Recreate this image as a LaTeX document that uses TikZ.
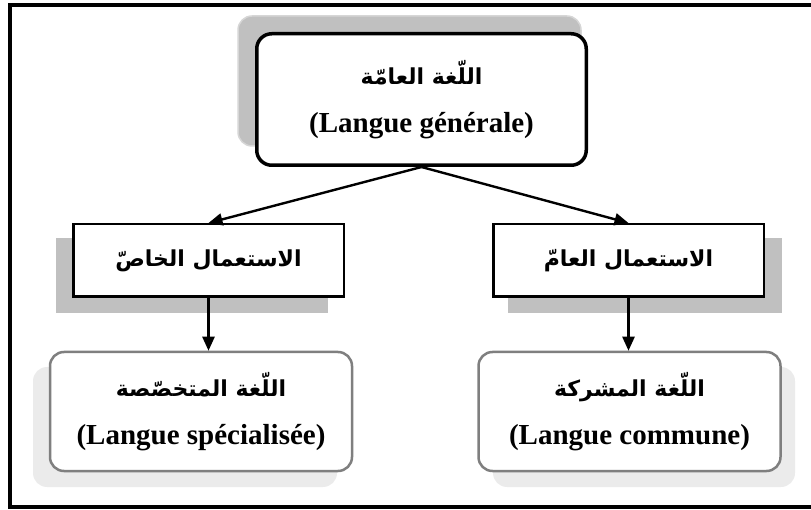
\documentclass[tikz,border=0pt]{standalone}
\usepackage{fontspec}
\setmainfont{Liberation Serif}
\newfontfamily\arabicfont[Script=Arabic]{DejaVu Sans}
\TeXXeTstate=1
\usetikzlibrary{arrows.meta}
\definecolor{shadowdark}{HTML}{C0C0C0}
\definecolor{shadowrim}{HTML}{D6D6D6}
\definecolor{shadowlight}{HTML}{EBEBEB}
\definecolor{softrim}{HTML}{7F7F7F}
\newcommand{\ar}[1]{{\arabicfont\bfseries\fontsize{22}{48}\selectfont\beginR #1\endR}}
\newcommand{\la}[1]{{\bfseries\fontsize{29}{48}\selectfont #1}}
\begin{document}
\begin{tikzpicture}[x=1pt,y=-1pt,
  txt/.style={align=center,inner sep=0pt,font=\fontsize{29}{48}\selectfont},
  topbox/.style={txt,draw=black,fill=white,line width=3.5pt,rounded corners=15pt,
    minimum width=329.5pt,minimum height=131.5pt},
  midbox/.style={txt,draw=black,fill=white,line width=2.5pt,
    minimum width=270.5pt,minimum height=72.5pt},
  lowbox/.style={txt,draw=softrim,fill=white,line width=2.5pt,rounded corners=14pt,
    minimum width=302pt,minimum height=119pt},
  link/.style={line width=2.4pt,-{Triangle[length=14pt,width=12pt]}}]
\useasboundingbox (0,0) rectangle (811,510);
\clip (0,0) rectangle (811,510);

% outer frame (right edge runs past the page)
\draw[line width=3.5pt] (10,5) rectangle (840,507);

% drop shadows
\draw[fill=shadowdark,draw=shadowrim,line width=1.5pt,rounded corners=14pt] (238,16) rectangle (581,146);
\fill[shadowdark] (56,238) rectangle (328,313);
\fill[shadowdark] (508,238) rectangle (782,313);
\fill[shadowlight,rounded corners=14pt] (33,367) rectangle (337,487);
\fill[shadowlight,rounded corners=14pt] (493,367) rectangle (795,487);

% boxes
\node[topbox] (gen) at (421.5,99.5) {\ar{اللّغة العامّة}\\\la{(Langue générale)}};
\node[midbox] (spec) at (208.5,260.5) {\ar{الاستعمال الخاصّ}};
\node[midbox] (comm) at (628.5,260.5) {\ar{الاستعمال العامّ}};
\node[lowbox] (lspec) at (201,411.5) {\ar{اللّغة المتخصّصة}\\\la{(Langue spécialisée)}};
\node[lowbox] (lcomm) at (629.5,411.5) {\ar{اللّغة المشركة}\\\la{(Langue commune)}};

% connectors
\draw[link] (gen.south) -- (spec.north);
\draw[link] (gen.south) -- (comm.north);
\draw[link] (spec.south) -- (spec.south |- lspec.north);
\draw[link] (comm.south) -- (comm.south |- lcomm.north);
\end{tikzpicture}
\end{document}
